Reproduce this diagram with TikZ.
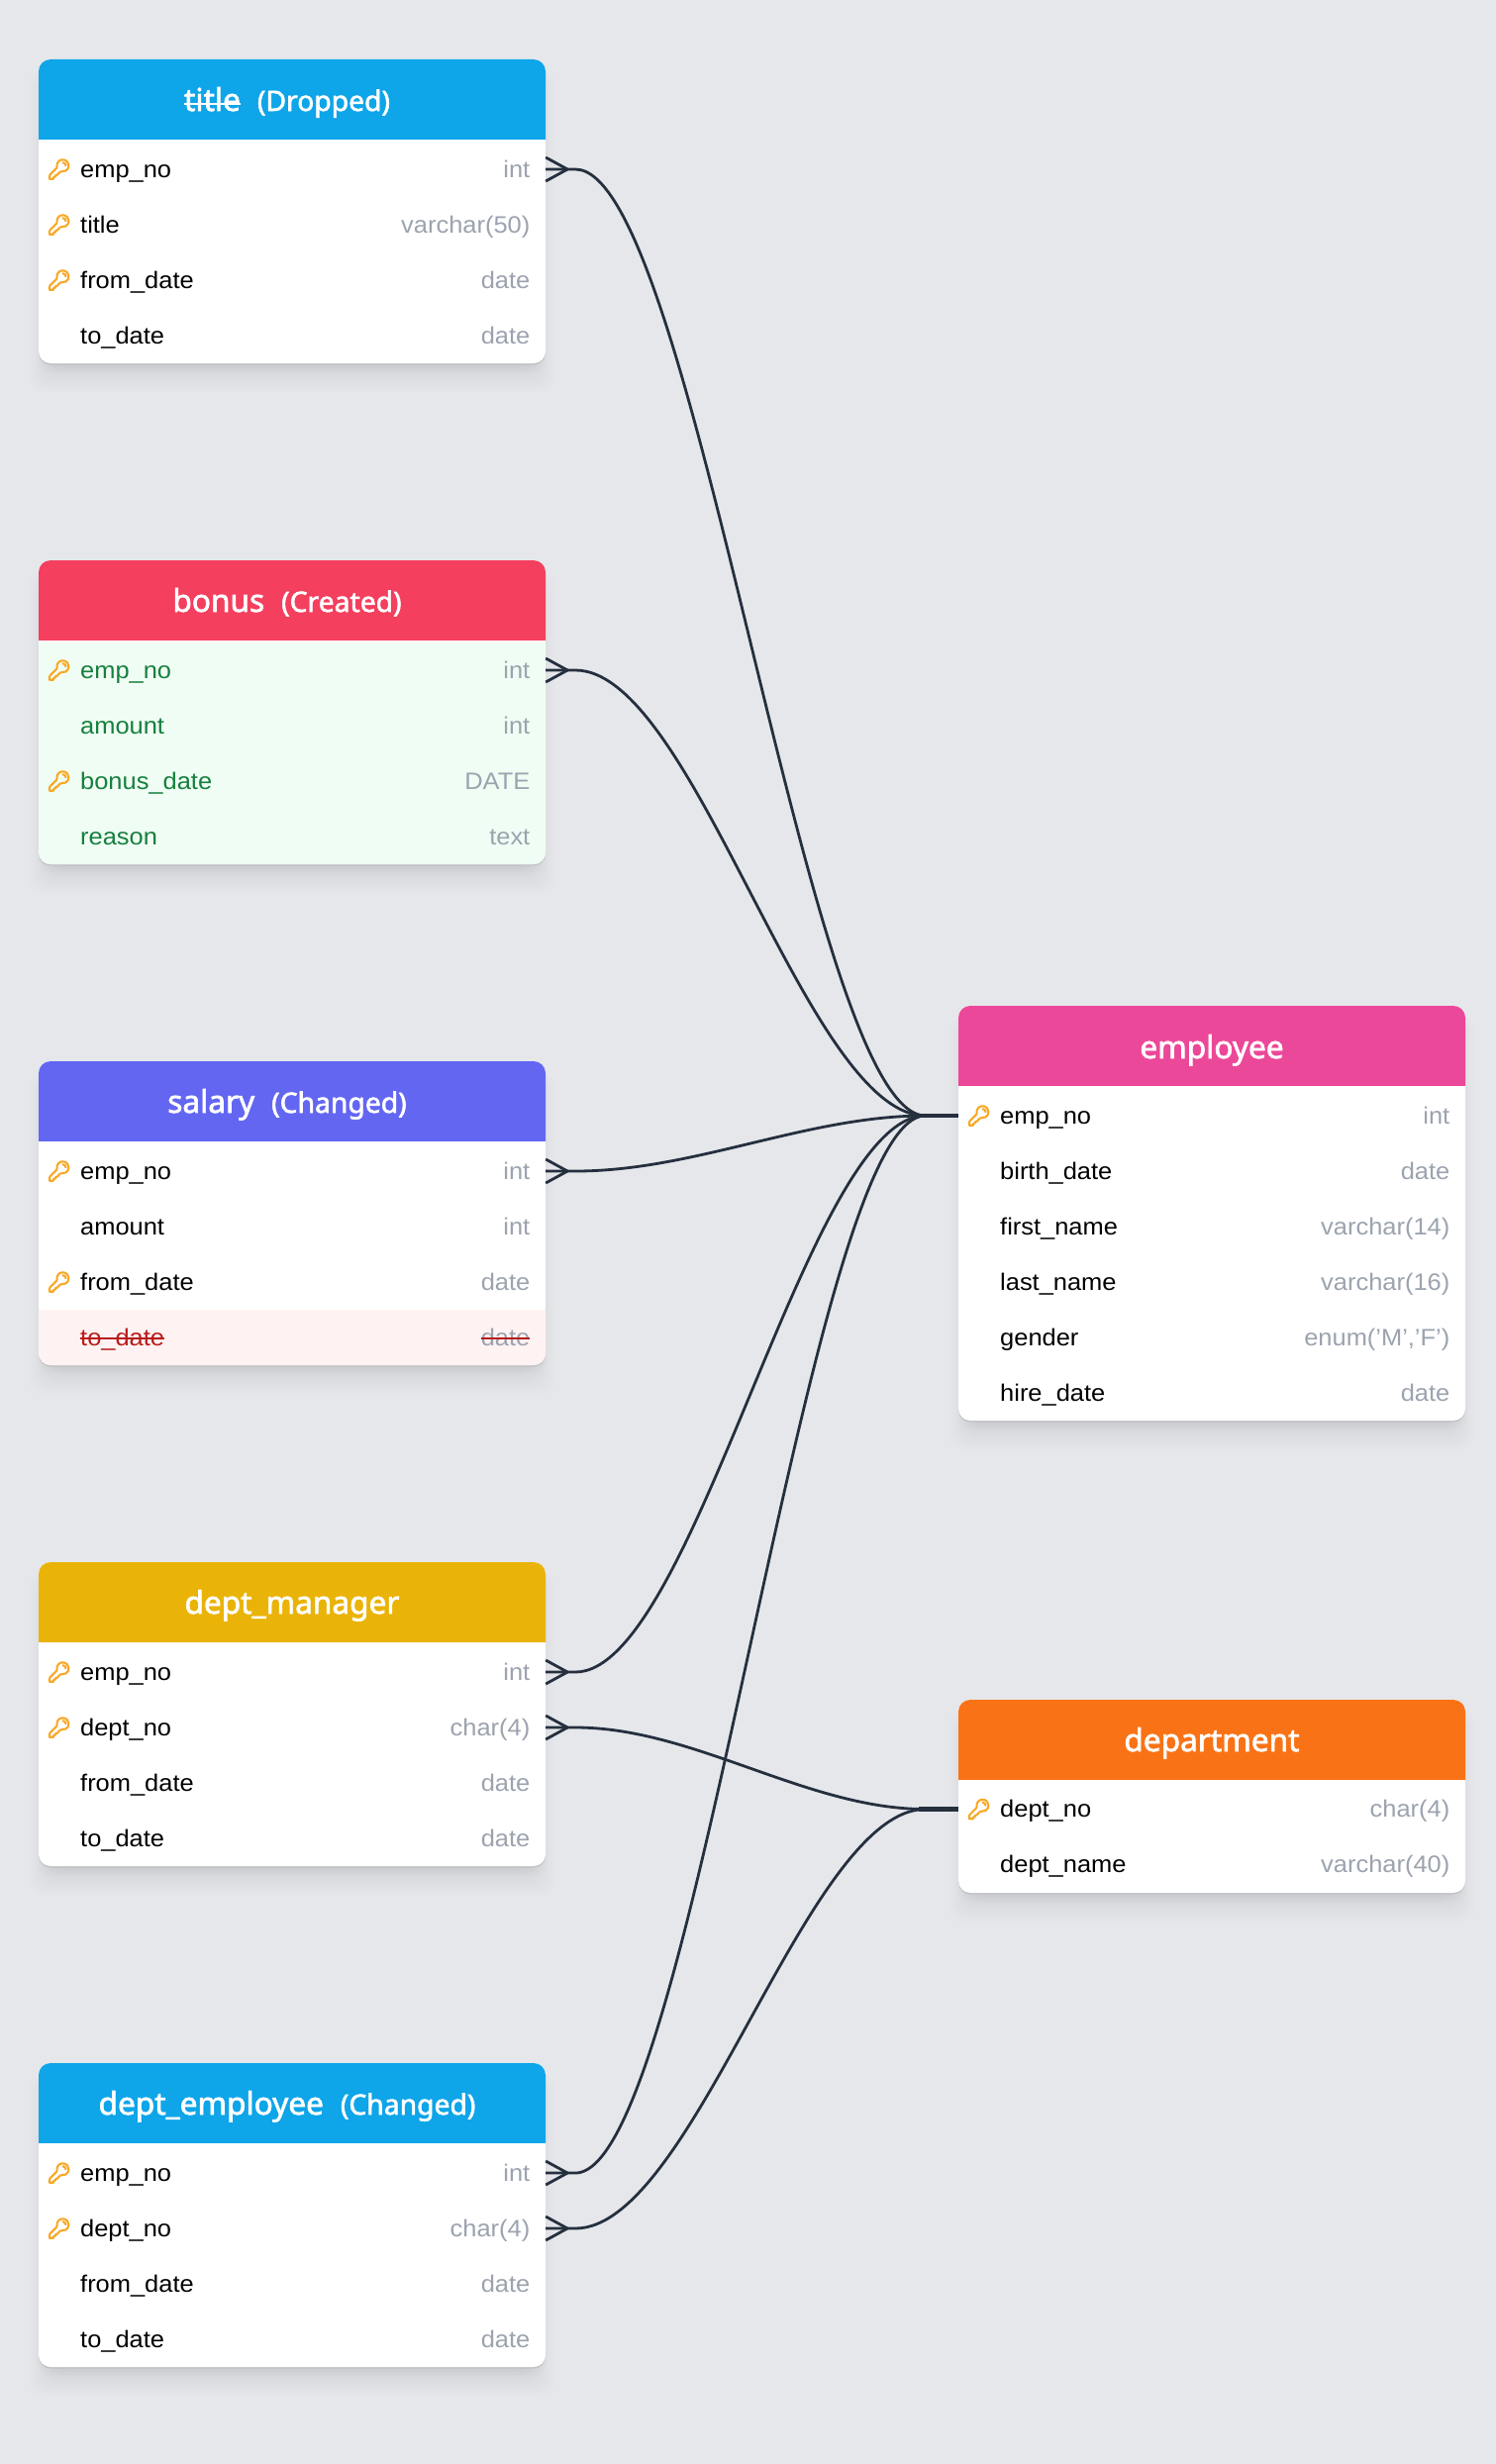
\documentclass[tikz,border=0pt]{standalone}
\usepackage{fontspec}
\setmainfont[FakeStretch=1.06]{Liberation Sans}
\newfontfamily\hdfont[FakeBold=2]{Noto Sans}
\usetikzlibrary{calc}
\definecolor{bgc}{HTML}{E5E7EB}
\definecolor{linec}{HTML}{252F3E}
\definecolor{typec}{HTML}{9CA3AF}
\definecolor{keyc}{HTML}{F9A825}
\definecolor{skyc}{HTML}{0EA5E9}
\definecolor{rosec}{HTML}{F43F5E}
\definecolor{indc}{HTML}{6366F1}
\definecolor{yelc}{HTML}{EAB308}
\definecolor{pinkc}{HTML}{EC4899}
\definecolor{oranc}{HTML}{F97316}
\definecolor{greenbg}{HTML}{F0FDF4}
\definecolor{redbg}{HTML}{FEF2F2}
\definecolor{greent}{HTML}{15803D}
\definecolor{redt}{HTML}{B91C1C}
\newcommand{\fieldsz}{\fontsize{24pt}{28pt}\selectfont}
\newcommand{\hdbig}{\hdfont\fontsize{31.6pt}{38pt}\selectfont}
\newcommand{\hdsm}{\hdfont\fontsize{28.3pt}{38pt}\selectfont}
\newcommand{\strk}[2]{\setbox0\hbox{#2}\rlap{\copy0}{\color{#1}\rule[6.5pt]{\wd0}{2pt}}}
\tikzset{
  rel/.style={draw=linec,line width=2.8pt,line join=round},
  relstem/.style={draw=linec,line width=4.2pt},
  rowcell/.style={inner sep=0pt,minimum width=512pt,minimum height=56pt},
  fieldlabel/.style={inner sep=0pt,anchor=base west,font=\fieldsz},
  typelabel/.style={inner sep=0pt,anchor=base east,font=\fieldsz,text=typec},
  headlabel/.style={inner sep=0pt,anchor=base,text=white},
}
% #1 x, #2 top, #3 height
\newcommand{\cardback}[3]{%
  \foreach \s in {-21,-18,...,9}{\fill[black,opacity=.0095,rounded corners=14pt]
    ({#1-\s},{#2+20-\s}) rectangle ({#1+512+\s},{#2+#3+20+\s});}
  \foreach \s in {-10,-8,...,2}{\fill[black,opacity=.0075,rounded corners=14pt]
    ({#1-\s},{#2+8-\s}) rectangle ({#1+512+\s},{#2+#3+8+\s});}
  \fill[rounded corners=12pt,fill=black!16!bgc] (#1,#2+1.5) rectangle ({#1+512},{#2+#3+1.5});
  \fill[white,rounded corners=12pt] (#1,#2) rectangle ({#1+512},{#2+#3});
}
% #1 x, #2 top, #3 height, #4 y0, #5 y1, #6 colour
\newcommand{\band}[6]{%
  \begin{scope}
    \clip (#1,#4) rectangle ({#1+512},#5);
    \fill[#6,rounded corners=12pt] (#1,#2) rectangle ({#1+512},{#2+#3});
  \end{scope}
}
\newcommand{\keyicon}[2]{%
  \begin{scope}[shift={(#1+0.7,#2)},x=1pt,y=1pt,draw=keyc,line width=2.1pt,line join=round,line cap=round]
    \draw (3.75,6.75) arc[start angle=90,end angle=0,radius=3];
    \draw (9.75,3.75) arc[start angle=0,end angle=-99.9,radius=6]
      .. controls (2.158,-2.065) and (1.562,-2.188) .. (1.158,-2.592)
      -- (-2.2,-5.9) -- (-3.6,-6.1) -- (-3.9,-7.6) -- (-5.4,-7.9) -- (-5.8,-9.75) -- (-9.75,-9.75) -- (-9.75,-6.932)
      .. controls (-9.75,-6.335) and (-9.513,-5.762) .. (-9.091,-5.341)
      -- (-2.592,1.158)
      .. controls (-2.188,1.562) and (-2.065,2.158) .. (-2.162,2.721)
      arc[start angle=-170.1,end angle=-360,radius=6] -- cycle;
  \end{scope}
}
% #1 name, #2 x, #3 row centre y, #4 key(1/0), #5 field, #6 type, #7 field colour
\newcommand{\dbrow}[7]{%
  \node[rowcell] (#1) at ({#2+256},#3) {};
  \node[fieldlabel,text=#7] (#1-f) at ({#2+42},{#3+8}) {#5};
  \node[typelabel] (#1-t) at ({#2+496.5},{#3+8}) {#6};
  \ifnum#4=1 \keyicon{#2+20}{#3}\fi
}
\newcommand{\conn}[2]{%
  \path[rel] ($(#1.east)+(0,-12)$) -- ($(#1.east)+(22,0)$) -- ($(#1.east)+(0,12)$);
  \path[rel] (#1.east) -- ($(#1.east)+(30,0)$)
    .. controls ($(#1.east)+(150,0)$) and ($(#2.west)+(-153,0)$) .. ($(#2.west)+(-33,0)$);
  \path[relstem] ($(#2.west)+(-40,0)$) -- (#2.west);
}
\begin{document}
\begin{tikzpicture}[x=1pt,y=-1pt]
\useasboundingbox (0,0) rectangle (1511,2489);
\fill[bgc] (0,0) rectangle (1511,2489);

% title
\cardback{39}{60}{307}
\band{39}{60}{307}{60}{140}{skyc}
\node[headlabel] (titlehead) at (290,112) {\hdbig\strk{white}{title}\hspace{17pt}\hdsm (Dropped)};
\dbrow{a1}{39}{171}{1}{emp\_no}{int}{black}
\dbrow{a2}{39}{227}{1}{title}{varchar(50)}{black}
\dbrow{a3}{39}{283}{1}{from\_date}{date}{black}
\dbrow{a4}{39}{339}{0}{to\_date}{date}{black}

% bonus
\cardback{39}{566}{307}
\band{39}{566}{307}{566}{646}{rosec}
\band{39}{566}{307}{649}{873}{greenbg}
\node[headlabel] (bonushead) at (290,618) {\hdbig bonus\hspace{17pt}\hdsm (Created)};
\dbrow{b1}{39}{677}{1}{emp\_no}{int}{greent}
\dbrow{b2}{39}{733}{0}{amount}{int}{greent}
\dbrow{b3}{39}{789}{1}{bonus\_date}{DATE}{greent}
\dbrow{b4}{39}{845}{0}{reason}{text}{greent}

% salary
\cardback{39}{1072}{307}
\band{39}{1072}{307}{1072}{1152}{indc}
\band{39}{1072}{307}{1323}{1379}{redbg}
\node[headlabel] (salaryhead) at (290,1124) {\hdbig salary\hspace{17pt}\hdsm (Changed)};
\dbrow{c1}{39}{1183}{1}{emp\_no}{int}{black}
\dbrow{c2}{39}{1239}{0}{amount}{int}{black}
\dbrow{c3}{39}{1295}{1}{from\_date}{date}{black}
\dbrow{c4}{39}{1351}{0}{\strk{redt}{to\_date}}{\strk{redt}{date}}{redt}

% dept_manager
\cardback{39}{1578}{307}
\band{39}{1578}{307}{1578}{1658}{yelc}
\node[headlabel] (mgrhead) at (295,1630) {\hdbig dept\_manager};
\dbrow{d1}{39}{1689}{1}{emp\_no}{int}{black}
\dbrow{d2}{39}{1745}{1}{dept\_no}{char(4)}{black}
\dbrow{d3}{39}{1801}{0}{from\_date}{date}{black}
\dbrow{d4}{39}{1857}{0}{to\_date}{date}{black}

% dept_employee
\cardback{39}{2084}{307}
\band{39}{2084}{307}{2084}{2164}{skyc}
\node[headlabel] (dehead) at (290,2136) {\hdbig dept\_employee\hspace{17pt}\hdsm (Changed)};
\dbrow{e1}{39}{2195}{1}{emp\_no}{int}{black}
\dbrow{e2}{39}{2251}{1}{dept\_no}{char(4)}{black}
\dbrow{e3}{39}{2307}{0}{from\_date}{date}{black}
\dbrow{e4}{39}{2363}{0}{to\_date}{date}{black}

% employee
\cardback{968}{1016}{419}
\band{968}{1016}{419}{1016}{1096}{pinkc}
\node[headlabel] (emphead) at (1224,1069) {\hdbig employee};
\dbrow{f1}{968}{1127}{1}{emp\_no}{int}{black}
\dbrow{f2}{968}{1183}{0}{birth\_date}{date}{black}
\dbrow{f3}{968}{1239}{0}{first\_name}{varchar(14)}{black}
\dbrow{f4}{968}{1295}{0}{last\_name}{varchar(16)}{black}
\dbrow{f5}{968}{1351}{0}{gender}{enum('M','F')}{black}
\dbrow{f6}{968}{1407}{0}{hire\_date}{date}{black}

% department
\cardback{968}{1717}{195}
\band{968}{1717}{195}{1717}{1797}{oranc}
\node[headlabel] (dephead) at (1224,1769) {\hdbig department};
\dbrow{g1}{968}{1827.5}{1}{dept\_no}{char(4)}{black}
\dbrow{g2}{968}{1883.5}{0}{dept\_name}{varchar(40)}{black}

% connectors
\conn{a1}{f1}
\conn{b1}{f1}
\conn{c1}{f1}
\conn{d1}{f1}
\conn{e1}{f1}
\conn{d2}{g1}
\conn{e2}{g1}
\end{tikzpicture}
\end{document}
